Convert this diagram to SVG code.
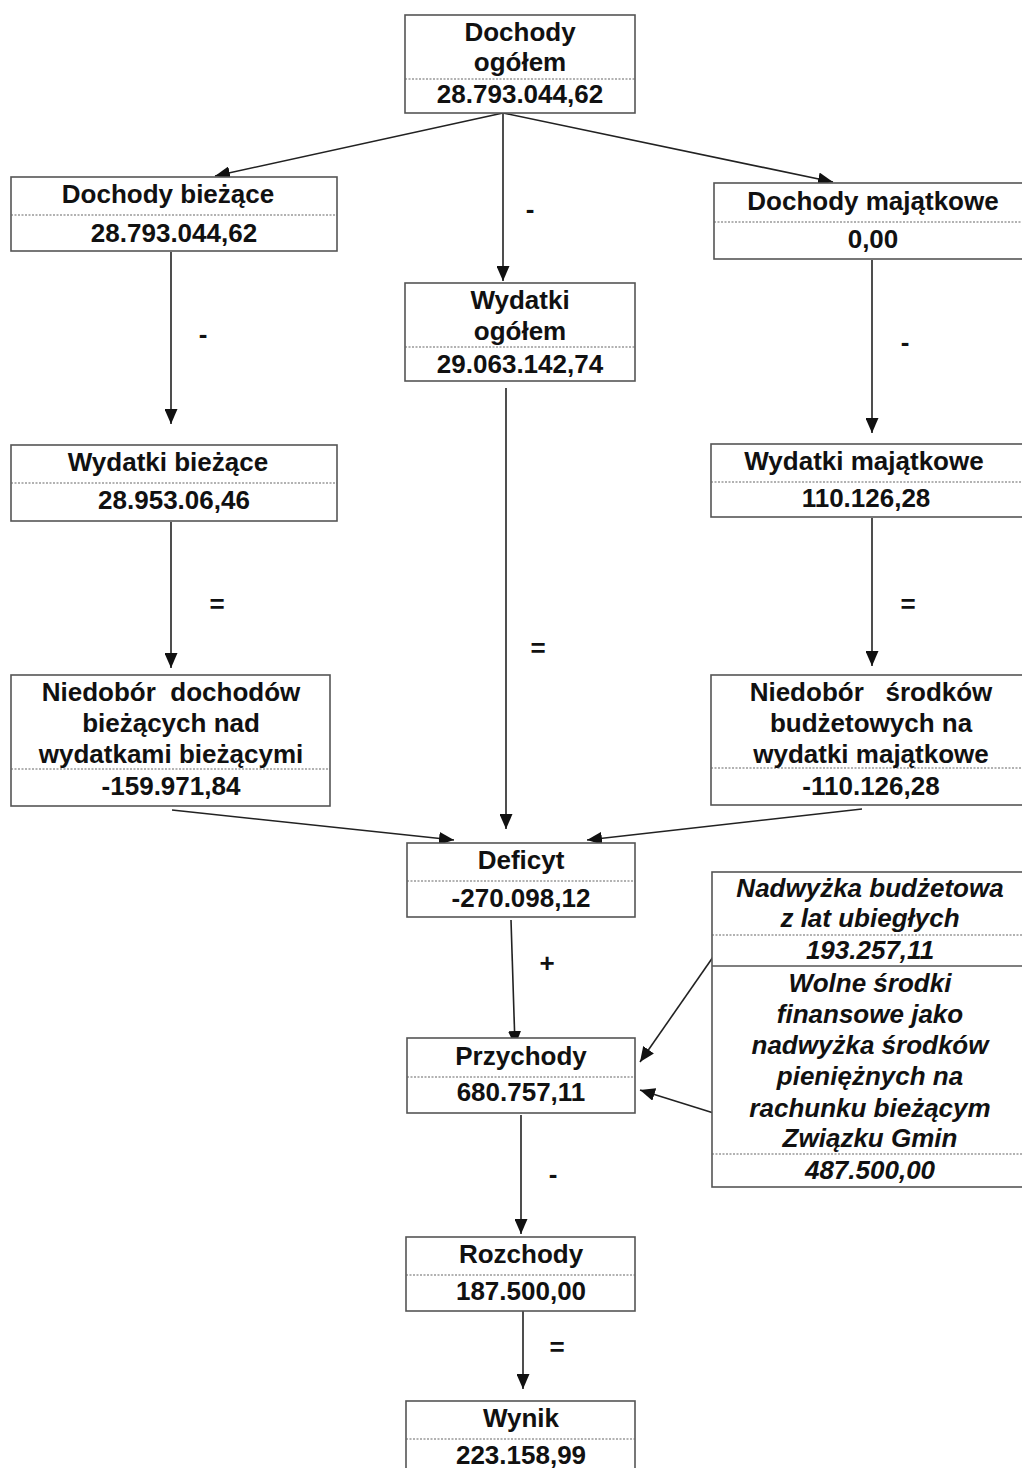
<svg xmlns="http://www.w3.org/2000/svg" width="1022" height="1468" viewBox="0 0 1022 1468">
<style>
.box{fill:#fff;stroke:#555;stroke-width:1.6}
.sep{stroke:#666;stroke-width:1.2;stroke-dasharray:2 1.5}
.t{font-family:"Liberation Sans",Arial,sans-serif;font-weight:bold;font-size:26px;text-anchor:middle;fill:#111}
.i{font-style:italic}
.c{stroke:#222;stroke-width:1.6;fill:none}
.op{font-family:"Liberation Sans",Arial,sans-serif;font-weight:bold;font-size:26px;text-anchor:middle;fill:#111}
</style>
<defs>
<marker id="ah" markerUnits="userSpaceOnUse" markerWidth="15" markerHeight="13" refX="15" refY="6.5" orient="auto">
<path d="M0,0 L15,6.5 L0,13 z" fill="#111"/>
</marker>
</defs>
<rect width="1022" height="1468" fill="#fff"/>

<g id="connectors">
<line class="c" x1="503" y1="113" x2="215" y2="176" marker-end="url(#ah)"/>
<line class="c" x1="503" y1="113" x2="833" y2="182" marker-end="url(#ah)"/>
<line class="c" x1="503" y1="113" x2="503" y2="281" marker-end="url(#ah)"/>
<line class="c" x1="171" y1="252" x2="171" y2="424" marker-end="url(#ah)"/>
<line class="c" x1="872" y1="260" x2="872" y2="433" marker-end="url(#ah)"/>
<line class="c" x1="171" y1="522" x2="171" y2="668" marker-end="url(#ah)"/>
<line class="c" x1="872" y1="518" x2="872" y2="666" marker-end="url(#ah)"/>
<line class="c" x1="506" y1="388" x2="506" y2="829" marker-end="url(#ah)"/>
<line class="c" x1="172" y1="810" x2="454" y2="840" marker-end="url(#ah)"/>
<line class="c" x1="862" y1="809" x2="587" y2="840" marker-end="url(#ah)"/>
<line class="c" x1="511" y1="920" x2="515" y2="1046" marker-end="url(#ah)"/>
<line class="c" x1="720" y1="947" x2="640" y2="1062" marker-end="url(#ah)"/>
<line class="c" x1="720" y1="1115" x2="640" y2="1090" marker-end="url(#ah)"/>
<line class="c" x1="521" y1="1115" x2="521" y2="1234" marker-end="url(#ah)"/>
<line class="c" x1="523" y1="1308" x2="523" y2="1389" marker-end="url(#ah)"/>
<text class="op" x="530" y="218">-</text>
<text class="op" x="203" y="343">-</text>
<text class="op" x="905" y="351">-</text>
<text class="op" x="217" y="613">=</text>
<text class="op" x="908" y="613">=</text>
<text class="op" x="538" y="657">=</text>
<text class="op" x="547" y="972">+</text>
<text class="op" x="553" y="1183">-</text>
<text class="op" x="557" y="1356">=</text>
</g>

<g id="dochody-ogolem">
<rect class="box" x="405" y="15" width="230" height="98"/>
<line class="sep" x1="405" y1="79" x2="635" y2="79"/>
<text class="t" x="520" y="41">Dochody</text>
<text class="t" x="520" y="71">ogółem</text>
<text class="t" x="520" y="103">28.793.044,62</text>
</g>

<g id="dochody-biezace">
<rect class="box" x="11" y="177" width="326" height="74"/>
<line class="sep" x1="11" y1="215" x2="337" y2="215"/>
<text class="t" x="168" y="203">Dochody bieżące</text>
<text class="t" x="174" y="242">28.793.044,62</text>
</g>

<g id="dochody-majatkowe">
<rect class="box" x="714" y="183" width="330" height="76"/>
<line class="sep" x1="714" y1="222" x2="1044" y2="222"/>
<text class="t" x="873" y="210">Dochody majątkowe</text>
<text class="t" x="873" y="248">0,00</text>
</g>

<g id="wydatki-ogolem">
<rect class="box" x="405" y="283" width="230" height="98"/>
<line class="sep" x1="405" y1="347" x2="635" y2="347"/>
<text class="t" x="520" y="309">Wydatki</text>
<text class="t" x="520" y="340">ogółem</text>
<text class="t" x="520" y="373">29.063.142,74</text>
</g>

<g id="wydatki-biezace">
<rect class="box" x="11" y="445" width="326" height="76"/>
<line class="sep" x1="11" y1="483" x2="337" y2="483"/>
<text class="t" x="168" y="471">Wydatki bieżące</text>
<text class="t" x="174" y="509">28.953.06,46</text>
</g>

<g id="wydatki-majatkowe">
<rect class="box" x="711" y="444" width="330" height="73"/>
<line class="sep" x1="711" y1="482" x2="1041" y2="482"/>
<text class="t" x="864" y="470">Wydatki majątkowe</text>
<text class="t" x="866" y="507">110.126,28</text>
</g>

<g id="niedobor-dochodow">
<rect class="box" x="11" y="675" width="319" height="131"/>
<line class="sep" x1="11" y1="769" x2="330" y2="769"/>
<text class="t" x="171" y="701" xml:space="preserve">Niedobór  dochodów</text>
<text class="t" x="171" y="732">bieżących nad</text>
<text class="t" x="171" y="763">wydatkami bieżącymi</text>
<text class="t" x="171" y="795">-159.971,84</text>
</g>

<g id="niedobor-srodkow">
<rect class="box" x="711" y="675" width="330" height="130"/>
<line class="sep" x1="711" y1="768" x2="1041" y2="768"/>
<text class="t" x="871" y="701" xml:space="preserve">Niedobór   środków</text>
<text class="t" x="871" y="732">budżetowych na</text>
<text class="t" x="871" y="763">wydatki majątkowe</text>
<text class="t" x="871" y="795">-110.126,28</text>
</g>

<g id="deficyt">
<rect class="box" x="407" y="843" width="228" height="74"/>
<line class="sep" x1="407" y1="881" x2="635" y2="881"/>
<text class="t" x="521" y="869">Deficyt</text>
<text class="t" x="521" y="907">-270.098,12</text>
</g>

<g id="nadwyzka">
<rect class="box" x="712" y="872" width="330" height="315"/>
<line class="sep" x1="712" y1="935" x2="1042" y2="935"/>
<line stroke="#555" stroke-width="1.6" x1="712" y1="966" x2="1042" y2="966"/>
<line class="sep" x1="712" y1="1154" x2="1042" y2="1154"/>
<text class="t i" x="870" y="897">Nadwyżka budżetowa</text>
<text class="t i" x="870" y="927">z lat ubiegłych</text>
<text class="t i" x="870" y="959">193.257,11</text>
<text class="t i" x="870" y="992">Wolne środki</text>
<text class="t i" x="870" y="1023">finansowe jako</text>
<text class="t i" x="870" y="1054">nadwyżka środków</text>
<text class="t i" x="870" y="1085">pieniężnych na</text>
<text class="t i" x="870" y="1117">rachunku bieżącym</text>
<text class="t i" x="870" y="1147">Związku Gmin</text>
<text class="t i" x="870" y="1179">487.500,00</text>
</g>

<g id="przychody">
<rect class="box" x="407" y="1038" width="228" height="75"/>
<line class="sep" x1="407" y1="1077" x2="635" y2="1077"/>
<text class="t" x="521" y="1065">Przychody</text>
<text class="t" x="521" y="1101">680.757,11</text>
</g>

<g id="rozchody">
<rect class="box" x="406" y="1237" width="229" height="74"/>
<line class="sep" x1="406" y1="1275" x2="635" y2="1275"/>
<text class="t" x="521" y="1263">Rozchody</text>
<text class="t" x="521" y="1300">187.500,00</text>
</g>

<g id="wynik">
<rect class="box" x="406" y="1401" width="229" height="75"/>
<line class="sep" x1="406" y1="1439" x2="635" y2="1439"/>
<text class="t" x="521" y="1427">Wynik</text>
<text class="t" x="521" y="1464">223.158,99</text>
</g>
</svg>
